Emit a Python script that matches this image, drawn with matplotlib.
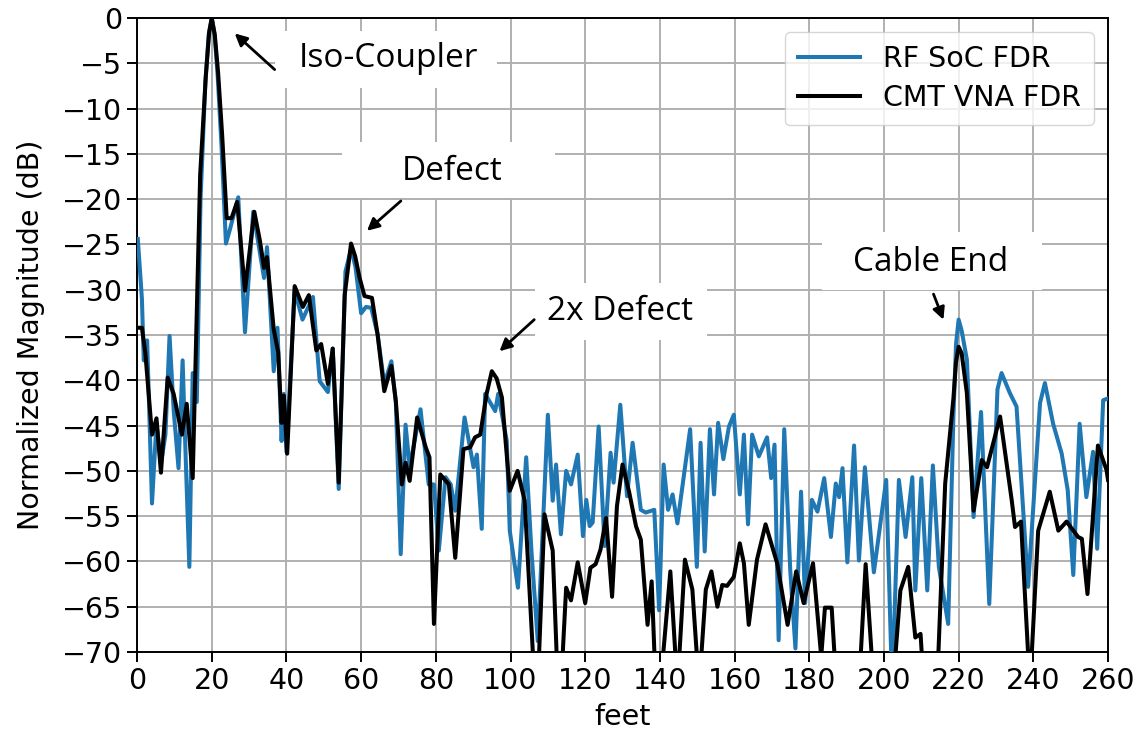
import matplotlib
matplotlib.use("Agg")
import matplotlib.pyplot as plt
from matplotlib.patches import Rectangle

# RF SoC FDR trace (feet, dB)
soc_ft = [0.2, 1.3, 1.8, 2.7, 4.0, 5.2, 6.4, 7.6, 8.7, 9.8, 11.1, 12.2, 12.9, 14.0, 14.9,
          16.0, 17.0, 18.3, 19.2, 20.0, 20.8, 21.6, 22.6, 23.8, 24.9, 27.1, 28.9, 31.1,
          34.0, 34.8, 36.6, 37.6, 38.7, 39.3, 40.0, 42.2, 44.3, 47.1, 48.9, 51.1, 52.4,
          54.0, 55.8, 57.3, 58.5, 60.0, 61.3, 62.7, 64.4, 66.2, 68.1, 69.3, 70.6, 71.9,
          73.0, 75.9, 78.1, 79.5, 80.8, 82.6, 84.0, 85.2, 87.7, 90.1, 91.0, 92.3, 93.2,
          95.9, 96.7, 99.0, 99.8, 102.0, 104.2, 105.6, 107.3, 110.0, 111.3, 112.2, 113.5,
          114.9, 116.2, 118.0, 119.4, 120.3, 121.2, 122.0, 123.6, 125.2, 126.8, 127.6,
          129.4, 131.2, 132.7, 134.9, 136.2, 138.5, 139.8, 141.0, 142.2, 143.4, 144.7,
          148.1, 149.9, 150.9, 152.0, 153.4, 154.5, 155.6, 157.0, 158.5, 159.8, 161.4,
          162.5, 163.6, 164.7, 166.5, 168.7, 169.8, 170.7, 171.8, 173.3, 174.9, 176.3,
          177.8, 178.9, 180.7, 182.2, 184.0, 185.8, 187.1, 188.0, 188.9, 190.2, 192.0,
          193.3, 194.9, 197.3, 198.7, 200.6, 202.2, 204.0, 205.8, 207.6, 208.4, 210.0,
          211.6, 213.1, 214.7, 217.2, 218.6, 219.3, 220.0, 220.8, 222.2, 224.0, 226.0,
          228.2, 230.4, 231.5, 233.7, 235.5, 238.6, 241.8, 243.1, 245.3, 247.6, 249.2,
          250.7, 252.4, 254.2, 256.0, 257.1, 258.7, 260.0]
soc_db = [-24.4, -31.0, -37.8, -35.6, -53.6, -44.7, -49.2, -46.0, -35.1, -43.3, -49.7, -37.8,
          -47.0, -60.6, -39.2, -42.4, -20.0, -7.0, -1.8, 0.0, -2.0, -6.5, -14.0, -24.9,
          -23.3, -19.8, -34.7, -21.4, -28.7, -25.3, -39.0, -34.2, -46.7, -41.5, -47.9,
          -30.1, -33.3, -30.8, -40.1, -41.3, -36.5, -52.0, -28.0, -25.5, -27.5, -32.6,
          -31.9, -32.0, -34.9, -40.4, -37.9, -42.5, -59.2, -44.9, -49.6, -43.2, -51.5,
          -51.5, -58.8, -50.7, -51.5, -54.4, -44.1, -49.6, -48.2, -56.4, -41.5, -43.4,
          -41.5, -46.7, -56.6, -62.9, -48.5, -58.8, -68.8, -43.8, -53.3, -49.3, -57.0,
          -50.0, -51.5, -48.2, -57.2, -53.2, -56.1, -55.7, -45.1, -58.3, -48.0, -51.3,
          -42.7, -52.8, -46.9, -54.3, -54.6, -54.3, -65.4, -49.3, -54.3, -52.6, -55.8,
          -45.4, -60.6, -46.9, -58.9, -45.4, -52.6, -44.7, -48.7, -45.1, -43.8, -52.6,
          -46.0, -55.9, -46.0, -48.4, -46.3, -50.8, -47.1, -68.7, -45.4, -60.9, -69.6,
          -52.3, -64.6, -53.2, -54.5, -50.8, -57.3, -51.4, -52.9, -49.7, -60.1, -47.2,
          -59.9, -49.6, -61.2, -56.9, -51.0, -74.0, -51.0, -57.3, -50.7, -63.2, -50.8,
          -63.2, -49.4, -60.6, -66.9, -44.0, -36.0, -33.3, -34.5, -37.7, -55.1, -43.5,
          -64.7, -41.0, -39.2, -41.4, -42.9, -62.8, -42.5, -40.3, -44.8, -48.1, -52.1,
          -61.5, -44.8, -52.9, -47.9, -58.6, -42.2, -42.0]

# CMT VNA FDR trace (feet, dB)
vna_ft = [0.0, 1.3, 2.2, 4.0, 5.2, 6.4, 8.2, 9.8, 12.0, 13.3, 14.9, 16.9, 18.4, 19.3, 20.0,
          20.8, 21.7, 22.8, 24.0, 25.3, 26.8, 28.9, 31.4, 32.9, 34.0, 34.8, 36.6, 37.8,
          38.7, 39.3, 40.2, 42.2, 44.4, 46.0, 48.0, 49.3, 51.1, 52.4, 54.0, 55.6, 57.3,
          58.4, 59.6, 60.9, 62.9, 64.4, 66.2, 68.1, 69.3, 70.9, 71.9, 73.0, 75.0, 77.3,
          78.3, 79.5, 81.2, 83.5, 85.2, 87.4, 89.2, 90.5, 91.9, 93.6, 95.0, 96.3, 97.7,
          99.8, 101.9, 103.8, 106.5, 107.3, 109.1, 111.3, 112.7, 113.5, 114.9, 116.2,
          118.0, 120.0, 121.4, 122.8, 124.1, 125.6, 127.2, 128.5, 130.0, 131.8, 133.6,
          134.9, 136.7, 137.8, 138.9, 140.1, 142.8, 144.7, 146.7, 148.7, 150.5, 152.3,
          153.8, 155.4, 156.7, 158.0, 159.8, 161.4, 162.5, 163.8, 166.0, 168.3, 171.4,
          174.2, 176.5, 178.5, 181.0, 183.2, 184.2, 186.0, 187.3, 193.3, 195.1, 197.3,
          202.4, 204.4, 206.5, 208.4, 209.8, 210.7, 214.2, 216.4, 218.6, 219.3, 220.0,
          220.8, 222.2, 224.0, 226.2, 227.6, 231.1, 234.2, 235.1, 236.7, 239.1, 241.3,
          244.4, 246.7, 248.9, 252.0, 253.0, 254.5, 257.3, 259.6, 260.0]
vna_db = [-34.2, -34.2, -36.9, -46.0, -44.2, -50.2, -39.7, -41.5, -46.0, -42.6, -50.8, -17.3,
          -6.5, -1.6, 0.0, -1.8, -6.0, -13.0, -22.1, -22.1, -20.3, -30.1, -21.4, -24.6,
          -27.6, -26.4, -34.4, -36.9, -44.7, -41.7, -48.1, -29.6, -31.9, -30.6, -36.7,
          -36.0, -40.4, -36.5, -51.3, -30.6, -24.9, -26.3, -28.7, -30.7, -30.9, -34.9,
          -41.2, -38.4, -42.3, -51.5, -49.1, -51.1, -44.1, -47.4, -48.5, -66.9, -50.4,
          -51.5, -59.6, -47.6, -47.4, -46.3, -46.0, -41.5, -39.0, -39.8, -41.9, -52.2,
          -50.0, -53.3, -74.0, -74.0, -54.8, -58.8, -74.0, -74.0, -62.9, -64.3, -60.1,
          -64.6, -60.7, -60.3, -58.7, -55.2, -63.9, -53.9, -49.3, -52.4, -56.1, -57.6,
          -67.0, -62.2, -74.0, -74.0, -61.1, -74.0, -59.8, -63.1, -74.0, -63.1, -61.1,
          -65.0, -62.6, -62.7, -61.7, -58.0, -60.2, -67.0, -59.8, -55.9, -60.2, -67.0,
          -61.1, -64.6, -60.2, -70.5, -65.1, -65.1, -74.0, -74.0, -60.3, -74.0, -74.0,
          -63.2, -60.6, -68.4, -68.0, -74.0, -74.0, -51.4, -42.0, -38.0, -36.3, -37.0,
          -41.4, -54.4, -48.8, -49.6, -44.0, -53.2, -56.2, -55.6, -74.0, -56.6, -52.3,
          -56.6, -55.6, -57.3, -57.5, -63.6, -47.2, -49.9, -51.0]

x_ticks = list(range(0, 261, 20))
y_ticks = list(range(-70, 1, 5))


def main():
    plt.rcParams['font.family'] = 'sans-serif'
    plt.rcParams['font.sans-serif'] = ['DejaVu Sans']
    fig = plt.figure(figsize=(11.45, 7.4), dpi=100)
    ax = fig.add_axes([0.1197, 0.1189, 0.8480, 0.8568])

    ax.plot(soc_ft, soc_db, color='#1f77b4', lw=2.9, label='RF SoC FDR', zorder=3)
    ax.plot(vna_ft, vna_db, color='black', lw=2.9, label='CMT VNA FDR', zorder=4)

    ax.set_xlim(0, 260)
    ax.set_ylim(-70, 0)
    ax.set_xticks(x_ticks)
    ax.set_yticks(y_ticks)
    ax.tick_params(labelsize=20.5, length=7, width=1.4)
    ax.grid(True, color='#b0b0b0', lw=1.4)
    ax.set_axisbelow(True)
    for s in ax.spines.values():
        s.set_linewidth(1.4)

    ax.set_xlabel('feet', fontsize=20.5, labelpad=6)
    ax.set_ylabel('Normalized Magnitude (dB)', fontsize=20.5, labelpad=12)

    ax.legend(loc='upper right', fontsize=20.5, framealpha=0.8, borderpad=0.45,
              handlelength=2.2, borderaxespad=0.5, labelspacing=0.4)

    # white label boxes hiding the grid, then text and arrows
    boxes = [(36.9, -7.7, 59.5, 6.3), (54.9, -19.9, 57.0, 6.2),
             (106.6, -35.6, 46.0, 6.3), (183.4, -30.0, 58.9, 6.4)]
    for bx, by, bw, bh in boxes:
        ax.add_patch(Rectangle((bx, by), bw, bh, facecolor='white',
                               edgecolor='none', zorder=1.5))

    font = dict(fontsize=24, family='Open Sans', ha='center', va='center', zorder=5)
    ax.text(67.3, -4.5, 'Iso-Coupler', **font)
    ax.text(84.4, -16.9, 'Defect', **font)
    ax.text(129.2, -32.4, '2x Defect', **font)
    ax.text(212.6, -27.0, 'Cable End', **font)

    arrow = dict(arrowstyle='-|>', color='black', lw=2.0, mutation_scale=18)
    ax.annotate('', xy=(25.6, -1.5), xytext=(37.4, -5.9), arrowprops=arrow, zorder=5)
    ax.annotate('', xy=(61.0, -23.7), xytext=(71.2, -20.0), arrowprops=arrow, zorder=5)
    ax.annotate('', xy=(96.5, -37.0), xytext=(106.9, -33.1), arrowprops=arrow, zorder=5)
    ax.annotate('', xy=(216.2, -33.6), xytext=(213.0, -30.2), arrowprops=arrow, zorder=5)

    fig.savefig('out.png', dpi=100)


if __name__ == '__main__':
    main()
